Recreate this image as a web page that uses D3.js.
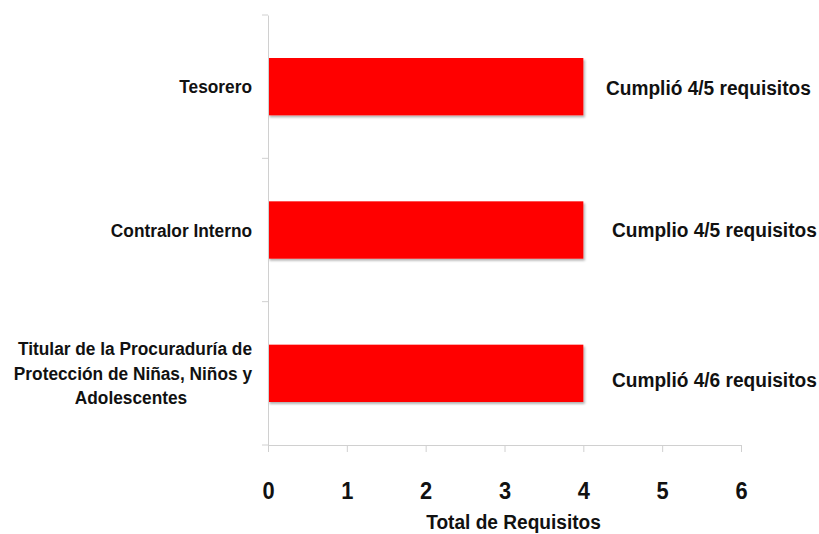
<!DOCTYPE html>
<html><head><meta charset="utf-8">
<script src="https://cdn.jsdelivr.net/npm/d3@7"></script>
<style>
body{margin:0;background:#fff;}
text{font-family:"Liberation Sans Narrow","Arial Narrow","Liberation Sans",Arial,sans-serif;font-weight:bold;fill:#111;}
</style></head>
<body><svg id="c" width="819" height="534"></svg>
<script>
const categories = ["Tesorero", "Contralor Interno", "Titular de la Procuraduría de Protección de Niñas, Niños y Adolescentes"];
const categoryLines = [["Tesorero"], ["Contralor Interno"], ["Titular de la Procuraduría de", "Protección de Niñas, Niños y", "Adolescentes"]];
const values = [4, 4, 4];
const annotations = ["Cumplió 4/5 requisitos", "Cumplio 4/5 requisitos", "Cumplió 4/6 requisitos"];
const xTicks = [0, 1, 2, 3, 4, 5, 6];
const xTitle = "Total de Requisitos";

const svg = d3.select("#c");
const m = {left: 268, right: 741, top: 15, bottom: 445};
const SX = 0.91; // horizontal condensing to mimic a narrow font
const x = d3.scaleLinear().domain([0, 6]).range([m.left, m.right]);
const y = d3.scaleBand().domain(categories).range([m.top, m.bottom]).paddingInner(0.6).paddingOuter(0.3);
const yb = d3.scaleBand().domain(categories).range([m.top, m.bottom]);

const defs = svg.append("defs");
const f = defs.append("filter").attr("id","sh").attr("x","-5%").attr("y","-10%").attr("width","115%").attr("height","130%");
f.append("feDropShadow").attr("dx",1.5).attr("dy",2).attr("stdDeviation",1).attr("flood-color","#000").attr("flood-opacity",0.3);

function ctext(px, py, str, size, anchor) {
  return svg.append("text")
    .attr("transform", `translate(${px},${py}) scale(${SX},1)`)
    .attr("x", 0).attr("y", 0).attr("dy", "0.35em")
    .attr("font-size", size).attr("text-anchor", anchor).text(str);
}

// bars
svg.selectAll("rect.bar").data(categories).join("rect")
  .attr("class","bar")
  .attr("x", x(0))
  .attr("y", d => y(d))
  .attr("width", (d,i) => x(values[i]) - x(0))
  .attr("height", y.bandwidth())
  .attr("fill", "#ff0000")
  .attr("filter","url(#sh)");

// x axis
const xg = svg.append("g").attr("transform", `translate(0,${m.bottom})`)
  .call(d3.axisBottom(x).tickValues(xTicks).tickFormat(d3.format("d")).tickSize(7).tickSizeOuter(0));
xg.select(".domain").attr("stroke","#d0d0d0");
xg.selectAll(".tick line").attr("stroke","#d0d0d0");
xg.selectAll(".tick text").attr("font-size", 24).attr("dy", 0).attr("y", 54).attr("fill","#111")
  .attr("transform", `scale(${SX},1)`).attr("x", 0);

// y axis
const yg = svg.append("g").attr("transform", `translate(${m.left},0)`)
  .call(d3.axisLeft(yb).tickValues([]).tickSizeOuter(0));
yg.select(".domain").attr("stroke","#d0d0d0");
const bounds = [m.top, ...categories.map(c => yb(c) + yb.bandwidth())];
svg.selectAll("line.ytick").data(bounds).join("line")
  .attr("x1", m.left - 6).attr("x2", m.left)
  .attr("y1", d => d).attr("y2", d => d)
  .attr("stroke","#d0d0d0");

// category labels
categories.forEach((c, i) => {
  const lines = categoryLines[i];
  const cy = y(c) + y.bandwidth()/2;
  const lh = 24.5;
  lines.forEach((l, j) => {
    const ly = cy + (j - (lines.length-1)/2) * lh;
    if (lines.length > 1 && j === lines.length - 1) ctext(131, ly, l, 19, "middle");
    else ctext(252, ly, l, 19, "end");
  });
});

// annotations
const annX = [606, 612, 612];
const annDy = [1, 0, 6];
annotations.forEach((a, i) => {
  ctext(annX[i], y(categories[i]) + y.bandwidth()/2 + annDy[i], a, 21, "start");
});

// x title
ctext((x(0)+x(6))/2 + 9, 522, xTitle, 21, "middle");
</script></body></html>
